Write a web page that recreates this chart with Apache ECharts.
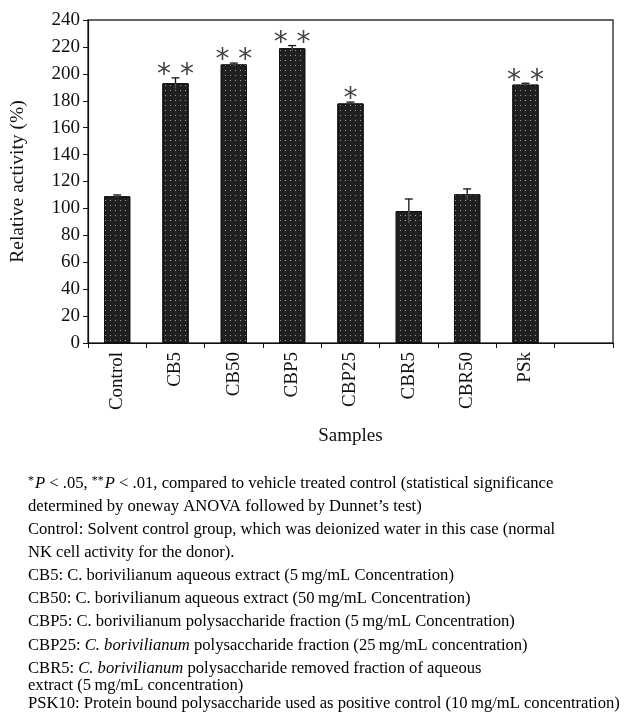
<!DOCTYPE html>
<html>
<head>
<meta charset="utf-8">
<script src="https://cdn.jsdelivr.net/npm/echarts@6/dist/echarts.min.js"></script>
<style>
  html, body { margin: 0; padding: 0; background: #fff; }
  #chart { width: 632px; height: 713px; }
</style>
</head>
<body>
<div id="chart"></div>
<script>
// NK cell relative activity per sample (mean, SD) and significance marks
const categories = ['Control', 'CB5', 'CB50', 'CBP5', 'CBP25', 'CBR5', 'CBR50', 'PSk', ''];
const activity = [109, 193, 207, 219, 178, 98, 110.5, 192, null];
const errors = [1, 4, 1, 2, 1, 9, 4, 1, null];
const significance = ['', '* *', '* *', '* *', '*', '', '', '* *', ''];
const yTicks = { min: 0, max: 240, interval: 20 };

const footnotes = [
  '{sup|*}{i|P}{n| < .05, }{sup|**}{i|P}{n| < .01, compared to vehicle treated control (statistical significance}',
  '{n|determined by oneway ANOVA followed by Dunnet\u2019s test)}',
  '{n|Control: Solvent control group, which was deionized water in this case (normal}',
  '{n|NK cell activity for the donor).}',
  '{n|CB5: C. borivilianum aqueous extract (5\u2009mg/mL Concentration)}',
  '{n|CB50: C. borivilianum aqueous extract (50\u2009mg/mL Concentration)}',
  '{n|CBP5: C. borivilianum polysaccharide fraction (5\u2009mg/mL Concentration)}',
  '{n|CBP25: }{i|C. borivilianum}{n| polysaccharide fraction (25\u2009mg/mL concentration)}',
  '{n|CBR5: }{i|C. borivilianum}{n| polysaccharide removed fraction of aqueous}',
  '{n|extract (5\u2009mg/mL concentration)}',
  '{n|PSK10: Protein bound polysaccharide used as positive control (10\u2009mg/mL concentration)}'
];
const footnoteY = [485, 508, 531, 554, 577, 600, 623, 647, 670, 687, 705];

const serif = '"Liberation Serif", "DejaVu Serif", serif';
const chart = echarts.init(document.getElementById('chart'), null, { renderer: 'canvas' });

const noteSize = 16.6;
const noteRich = {
  n: { fontFamily: serif, fontSize: noteSize, color: '#111' },
  i: { fontFamily: serif, fontSize: noteSize, fontStyle: 'italic', color: '#111' },
  sup: { fontFamily: serif, fontSize: 12, color: '#111', verticalAlign: 'top', padding: [0, 1, 5, 0] }
};

const option = {
  animation: false,
  backgroundColor: '#fff',
  grid: {
    left: 88, right: 19, top: 20, bottom: 370,
    show: true, borderColor: '#333', borderWidth: 1.4, backgroundColor: 'transparent'
  },
  xAxis: {
    type: 'category',
    data: categories,
    name: 'Samples',
    nameLocation: 'middle',
    nameGap: 84,
    nameTextStyle: { fontFamily: serif, fontSize: 19, color: '#111' },
    axisLine: { lineStyle: { color: '#111', width: 1.2 } },
    axisTick: { show: true, alignWithLabel: false, length: 5, lineStyle: { color: '#111' } },
    axisLabel: { rotate: 90, fontFamily: serif, fontSize: 19, color: '#111', margin: 9 },
    splitLine: { show: false }
  },
  yAxis: {
    type: 'value',
    min: yTicks.min, max: yTicks.max, interval: yTicks.interval,
    name: 'Relative activity (%)',
    nameLocation: 'middle',
    nameGap: 60,
    nameTextStyle: { fontFamily: serif, fontSize: 19.5, color: '#111' },
    axisLine: { show: true, lineStyle: { color: '#111', width: 1.2 } },
    axisTick: { show: true, length: 5, lineStyle: { color: '#111' } },
    axisLabel: { fontFamily: serif, fontSize: 19, color: '#111', margin: 8 },
    splitLine: { show: false }
  },
  series: [
    {
      type: 'bar',
      data: activity,
      barWidth: '45%',
      itemStyle: {
        color: '#221f20',
        borderColor: '#111',
        borderWidth: 1,
        decal: {
          symbol: 'rect',
          symbolSize: 1,
          color: 'rgba(200,200,200,0.75)',
          dashArrayX: [1, 4],
          dashArrayY: [1, 4],
          rotation: 0
        }
      },
      z: 2
    },
    {
      type: 'custom',
      data: activity.map((v, i) => [i, v, errors[i]]),
      z: 5,
      renderItem: function (params, api) {
        const v = api.value(1);
        if (v == null || isNaN(v)) return;
        const e = api.value(2);
        const top = api.coord([api.value(0), v + e]);
        const bot = api.coord([api.value(0), v - e]);
        const mid = api.coord([api.value(0), v]);
        const cap = 4;
        const sig = significance[params.dataIndex];
        const children = [
          { type: 'line', shape: { x1: top[0], y1: top[1], x2: mid[0], y2: mid[1] },
            style: { stroke: '#111', lineWidth: 1.3 } },
          { type: 'line', shape: { x1: mid[0], y1: mid[1], x2: bot[0], y2: bot[1] },
            style: { stroke: '#555', lineWidth: 1.3 } },
          { type: 'line', shape: { x1: top[0] - cap, y1: top[1], x2: top[0] + cap, y2: top[1] },
            style: { stroke: '#111', lineWidth: 1.3 } }
        ];
        if (sig) {
          children.push({
            type: 'text',
            style: {
              text: sig, x: top[0], y: top[1] + 12,
              align: 'center', verticalAlign: 'bottom',
              font: '28px "DejaVu Sans", sans-serif', fill: '#444'
            }
          });
        }
        return { type: 'group', children: children };
      }
    }
  ],
  graphic: footnotes.map((t, k) => ({
    type: 'text',
    left: 28,
    top: footnoteY[k] - 10,
    style: { text: t, rich: noteRich }
  }))
};

chart.setOption(option);
</script>
</body>
</html>
